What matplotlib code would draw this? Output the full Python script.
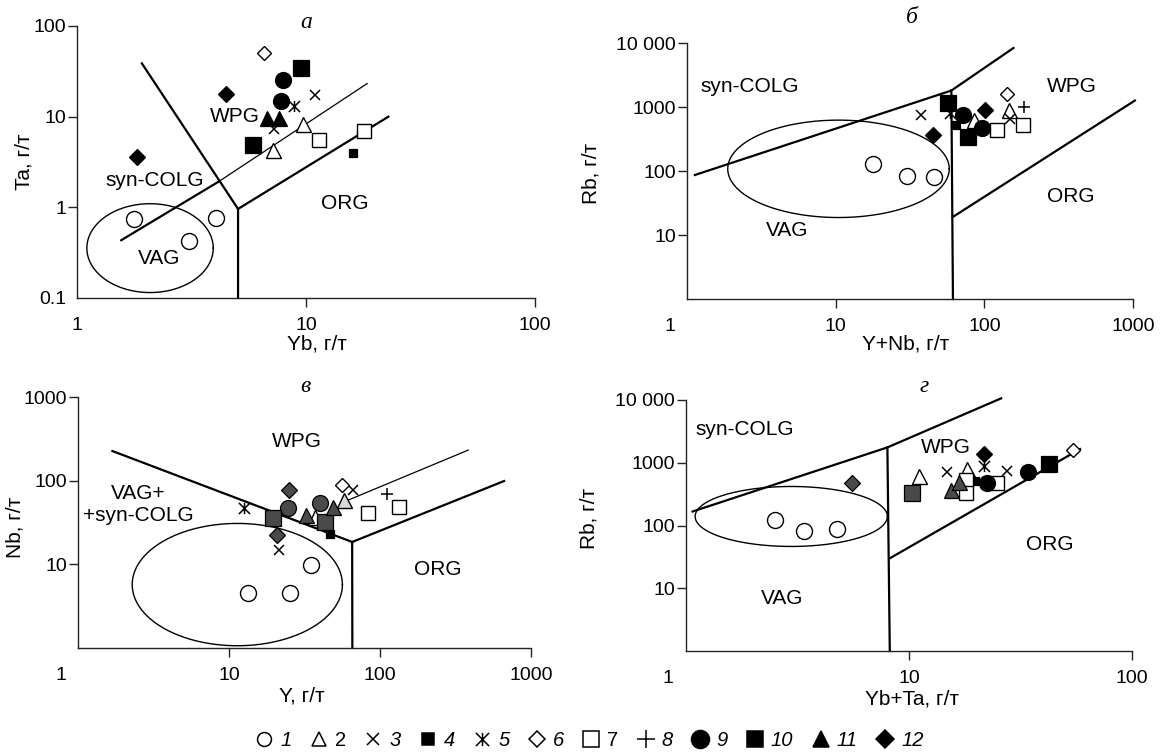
import numpy as np
import matplotlib
matplotlib.use('Agg')
import matplotlib.pyplot as plt
from matplotlib.lines import Line2D
from matplotlib.path import Path
from matplotlib.transforms import ScaledTranslation

plt.rcParams['font.family'] = ['Liberation Sans', 'DejaVu Sans']

# ---- a: Ta - Yb
a_group = [1, 1, 1, 2, 2, 3, 3, 4, 5, 6, 7, 7, 9, 9, 10, 10, 11, 11, 12, 12]
a_yb = [1.77, 4.03, 3.09, 7.2, 9.66, 7.25, 10.9, 16.1, 8.87, 6.58, 11.4, 17.9,
        7.96, 7.75, 9.48, 5.85, 6.78, 7.65, 4.46, 1.82]
a_ta = [0.74, 0.77, 0.42, 4.3, 8.4, 7.4, 17.3, 4.0, 13.1, 51, 5.55, 7.0,
        25.3, 14.9, 34.6, 4.86, 9.6, 9.6, 17.8, 3.6]

# ---- b: Rb - (Y+Nb)
b_group = [1, 1, 1, 2, 2, 3, 3, 4, 5, 6, 7, 7, 8, 9, 9, 10, 10, 12, 12]
b_ynb = [17.7, 30.4, 45.7, 85.1, 146, 37.3, 149, 64.4, 58.7, 142, 121.5, 182,
         185, 71.8, 96.4, 56.9, 77.6, 45.1, 101]
b_rb = [127, 84.6, 81.6, 626, 898, 750, 649, 523, 806, 1596, 437, 523,
        1000, 750, 470, 1155, 340, 365, 898]

# ---- c: Nb - Y
c_group = [1, 1, 1, 2, 2, 3, 3, 4, 5, 6, 7, 7, 8, 9, 9, 10, 10, 11, 11, 12, 12]
c_y = [13.4, 25.3, 34.8, 37.1, 57.6, 21.5, 66.4, 46.5, 12.6, 55.6, 82.7, 133,
       111, 24.7, 40, 19.5, 43.1, 32.6, 48.5, 25, 20.9]
c_nb = [4.5, 4.5, 9.8, 36.5, 58.7, 14.8, 77.3, 22.8, 46.7, 88.7, 41.3, 48.6,
        69.3, 47.4, 54.1, 35.9, 32.3, 38.8, 49, 77.5, 22.4]
c_tone = ['open', 'open', 'open', 'open', 'light', 'open', 'open', 'black', 'open',
          'open', 'open', 'open', 'open', 'dark', 'dark', 'dark', 'dark', 'dark',
          'dark', 'dark', 'dark']

# ---- d: Rb - (Yb+Ta)
d_group = [1, 1, 1, 2, 2, 3, 3, 4, 5, 6, 7, 7, 7, 9, 9, 10, 10, 11, 11, 12, 12]
d_ybta = [2.51, 3.38, 4.77, 11.1, 18.2, 14.8, 27.6, 19.8, 21.8, 54.2, 18.0, 18.1,
          24.9, 22.3, 34.3, 10.3, 42.6, 15.4, 16.8, 5.56, 21.8]
d_rb = [123, 83.2, 88.5, 615, 787, 720, 747, 518, 888, 1596, 531, 333, 470,
        470, 720, 326, 955, 368, 499, 470, 1378]
d_tone = ['open'] * 13 + ['black', 'black', 'dark', 'black', 'dark', 'dark',
                          'dark', 'black']

# field boundaries (data units)
a_line1_x, a_line1_y = [1.92, 5.05, 5.05], [38.7, 0.96, 0.1]
a_line2_x, a_line2_y = [5.05, 22.9], [0.96, 10]
a_line3_x, a_line3_y = [1.56, 4.14], [0.434, 1.91]
a_thin_x, a_thin_y = [4.14, 18.5], [1.91, 23.2]
a_vag = [0.319, -0.45, 0.276, 0.49]  # log10 centre x, y, half-axes

b_line1_x, b_line1_y = [1.13, 60, 157], [86.6, 1807, 8350]
b_line2_x, b_line2_y = [60, 61.5], [1807, 1]
b_line3_x, b_line3_y = [61.5, 1030], [19.2, 1262]
b_vag = [1.019, 2.034, 0.745, 0.761]

c_line1_x, c_line1_y = [1.69, 65.4, 65.6], [226, 18.5, 1]
c_line2_x, c_line2_y = [65.4, 663], [18.5, 99]
c_thin_x, c_thin_y = [58, 384], [56, 232]
c_vag = [1.055, 0.758, 0.696, 0.731]

d_line1_x, d_line1_y = [1.07, 8.0, 25.9], [167, 1755, 10630]
d_line2_x, d_line2_y = [8.0, 8.2], [1755, 1]
d_line3_x, d_line3_y = [8.2, 58.5], [30, 1652]
d_vag = [0.472, 2.144, 0.431, 0.478]

legend_labels = ['1', '2', '3', '4', '5', '6', '7', '8', '9', '10', '11', '12']

# Russian-style asterisk: vertical stroke + X
ast = Path([(0, -1), (0, 1), (-1, -1), (1, 1), (-1, 1), (1, -1)],
           [Path.MOVETO, Path.LINETO] * 3)

# marker, size, kind
STYLE = {
    1: ('o', 11.5, 'open'), 2: ('^', 10.8, 'open'), 3: ('x', 7.5, 'line'),
    4: ('s', 6.0, 'fill'), 5: (ast, 8.0, 'line'), 6: ('D', 7.6, 'open'),
    7: ('s', 10.0, 'open'), 8: ('+', 8.5, 'line'), 9: ('o', 11.5, 'fill'),
    10: ('s', 12.0, 'fill'), 11: ('^', 10.8, 'fill'), 12: ('D', 8.5, 'fill'),
}
TONE = {'black': 'black', 'dark': '#4a4a4a', 'light': '#d9d9d9', 'open': 'white'}

W, H = 1160, 755
fig = plt.figure(figsize=(W / 100, H / 100), dpi=100)


def px_axes(l, t, r, b):
    return fig.add_axes([l / W, 1 - b / H, (r - l) / W, (b - t) / H])


def scatter_groups(ax, xs, ys, groups, tones=None):
    for i, (x, y, g) in enumerate(zip(xs, ys, groups)):
        m, ms, kind = STYLE[g]
        tone = tones[i] if tones else 'open'
        if kind == 'line':
            ax.plot(x, y, ls='none', marker=m, ms=ms, mec='black', mew=1.1, zorder=4)
        elif kind == 'open':
            fc = TONE[tone] if tone == 'light' else 'white'
            ax.plot(x, y, ls='none', marker=m, ms=ms, mfc=fc, mec='black', mew=1.0, zorder=4)
        else:
            fc = TONE[tone] if tone in ('dark', 'black') else 'black'
            ax.plot(x, y, ls='none', marker=m, ms=ms, mfc=fc, mec='black', mew=0.9, zorder=4)


def ellipse(ax, p):
    t = np.linspace(0, 2 * np.pi, 300)
    ax.plot(10 ** (p[0] + p[2] * np.cos(t)), 10 ** (p[1] + p[3] * np.sin(t)),
            color='black', lw=1.0, zorder=2)


def setup(ax, xlim, ylim, xticks, yticks, ylabels, xlabel, ylabel,
          xlab_pos, ylab_pos, title, title_pos, shift_one=0):
    ax.set_xscale('log')
    ax.set_yscale('log')
    ax.set_xlim(xlim)
    ax.set_ylim(ylim)
    ax.minorticks_off()
    for s in ('top', 'right'):
        ax.spines[s].set_visible(False)
    for s in ('left', 'bottom'):
        ax.spines[s].set_linewidth(1.0)
        ax.spines[s].set_color('#222222')
    ax.set_xticks(xticks)
    ax.set_xticklabels([str(v) for v in xticks])
    ax.set_yticks(yticks)
    ax.set_yticklabels(ylabels)
    ax.minorticks_off()
    ax.tick_params(axis='both', direction='out', length=6.5, width=1.0,
                   color='#222222', labelsize=14)
    ax.tick_params(axis='x', pad=7)
    ax.tick_params(axis='y', pad=1.5)
    ax.set_xlabel(xlabel, fontsize=15)
    ax.set_ylabel(ylabel, fontsize=15)
    ax.xaxis.set_label_coords(*xlab_pos)
    ax.yaxis.set_label_coords(*ylab_pos)
    ax.text(title_pos[0], title_pos[1], title, transform=ax.transAxes,
            family='Liberation Serif', style='italic', fontsize=17,
            ha='center', va='center')
    # no tick mark at the axes origin
    ax.xaxis.get_major_ticks()[0].tick1line.set_visible(False)
    if yticks[0] == ylim[0]:
        ax.yaxis.get_major_ticks()[0].tick1line.set_visible(False)
    if shift_one:
        lbl = ax.get_xticklabels()[0]
        lbl.set_transform(lbl.get_transform() +
                          ScaledTranslation(shift_one / 100, 0, fig.dpi_scale_trans))


def region(ax, x, y, s):
    ax.text(x, y, s, fontsize=15, ha='center', va='center', zorder=3)


TH = 1.6
# ---------------- a
ax = px_axes(77, 26, 535, 298)
setup(ax, (1, 100), (0.1, 100), [1, 10, 100], [0.1, 1, 10, 100],
      ['0.1', '1', '10', '100'], 'Yb, г/т', 'Ta, г/т',
      (0.524, -0.136), (-0.096, 0.5), 'а', (0.5, 1.012))
ax.plot(a_line1_x, a_line1_y, color='black', lw=TH, clip_on=False)
ax.plot(a_line2_x, a_line2_y, color='black', lw=TH, clip_on=False)
ax.plot(a_line3_x, a_line3_y, color='black', lw=TH, clip_on=False)
ax.plot(a_thin_x, a_thin_y, color='black', lw=0.9, clip_on=False)
ellipse(ax, a_vag)
region(ax, 2.19, 1.98, 'syn-COLG')
region(ax, 4.88, 10.0, 'WPG')
region(ax, 14.7, 1.10, 'ORG')
region(ax, 2.29, 0.274, 'VAG')
scatter_groups(ax, a_yb, a_ta, a_group)

# ---------------- b
ax = px_axes(687, 43, 1133, 299)
setup(ax, (1, 1000), (1, 10000), [1, 10, 100, 1000], [10, 100, 1000, 10000],
      ['10', '100', '1000', '10 000'], 'Y+Nb, г/т', 'Rb, г/т',
      (0.491, -0.14), (-0.195, 0.49), 'б', (0.505, 1.098), shift_one=-17)
ax.plot(b_line1_x, b_line1_y, color='black', lw=TH, clip_on=False)
ax.plot(b_line2_x, b_line2_y, color='black', lw=TH, clip_on=False)
ax.plot(b_line3_x, b_line3_y, color='black', lw=TH, clip_on=False)
ellipse(ax, b_vag)
region(ax, 2.66, 2113, 'syn-COLG')
region(ax, 387, 2113, 'WPG')
region(ax, 383, 39.8, 'ORG')
region(ax, 4.72, 11.75, 'VAG')
scatter_groups(ax, b_ynb, b_rb, b_group)

# ---------------- c
ax = px_axes(78, 397, 531, 648)
setup(ax, (1, 1000), (1, 1000), [1, 10, 100, 1000], [10, 100, 1000],
      ['10', '100', '1000'], 'Y, г/т', 'Nb, г/т',
      (0.494, -0.155), (-0.117, 0.48), 'в', (0.503, 1.04), shift_one=-17)
ax.plot(c_line1_x, c_line1_y, color='black', lw=TH, clip_on=False)
ax.plot(c_line2_x, c_line2_y, color='black', lw=TH, clip_on=False)
ax.plot(c_thin_x, c_thin_y, color='black', lw=0.9, clip_on=False)
ellipse(ax, c_vag)
region(ax, 28.3, 296, 'WPG')
ax.text(2.49, 51.8, 'VAG+\n+syn-COLG', fontsize=15, ha='center', va='center',
        linespacing=1.25, zorder=3)
region(ax, 241.5, 8.74, 'ORG')
scatter_groups(ax, c_y, c_nb, c_group, c_tone)

# ---------------- d
ax = px_axes(686, 400, 1132, 651)
setup(ax, (1, 100), (1, 10000), [1, 10, 100], [10, 100, 1000, 10000],
      ['10', '100', '1000', '10 000'], 'Yb+Ta, г/т', 'Rb, г/т',
      (0.506, -0.155), (-0.197, 0.53), 'г', (0.533, 1.052), shift_one=-18)
ax.plot(d_line1_x, d_line1_y, color='black', lw=TH, clip_on=False)
ax.plot(d_line2_x, d_line2_y, color='black', lw=TH, clip_on=False)
ax.plot(d_line3_x, d_line3_y, color='black', lw=TH, clip_on=False)
ellipse(ax, d_vag)
region(ax, 1.83, 3326, 'syn-COLG')
region(ax, 14.6, 1762, 'WPG')
region(ax, 42.8, 50.7, 'ORG')
region(ax, 2.69, 6.82, 'VAG')
scatter_groups(ax, d_ybta, d_rb, d_group, d_tone)

# ---------------- legend
leg_ms = {1: 10, 2: 10, 3: 9, 4: 9, 5: 9.5, 6: 8.3, 7: 11, 8: 12.5, 9: 13,
          10: 12, 11: 12, 12: 9.5}
handles = []
for g in range(1, 13):
    m, _, kind = STYLE[g]
    fc = 'white' if kind == 'open' else 'black'
    handles.append(Line2D([], [], ls='none', marker=m, ms=leg_ms[g], mfc=fc,
                          mec='black', mew=1.1))
leg = fig.legend(handles, legend_labels, ncol=12, loc='center',
                 bbox_to_anchor=(0.508, 0.019), frameon=False,
                 handlelength=0.9, handletextpad=0.35, columnspacing=0.9,
                 borderpad=0, prop={'style': 'italic', 'size': 14.5})
for t in leg.get_texts():
    if t.get_text() in ('2', '7'):
        t.set_fontstyle('normal')

fig.savefig('out.png', dpi=100)
